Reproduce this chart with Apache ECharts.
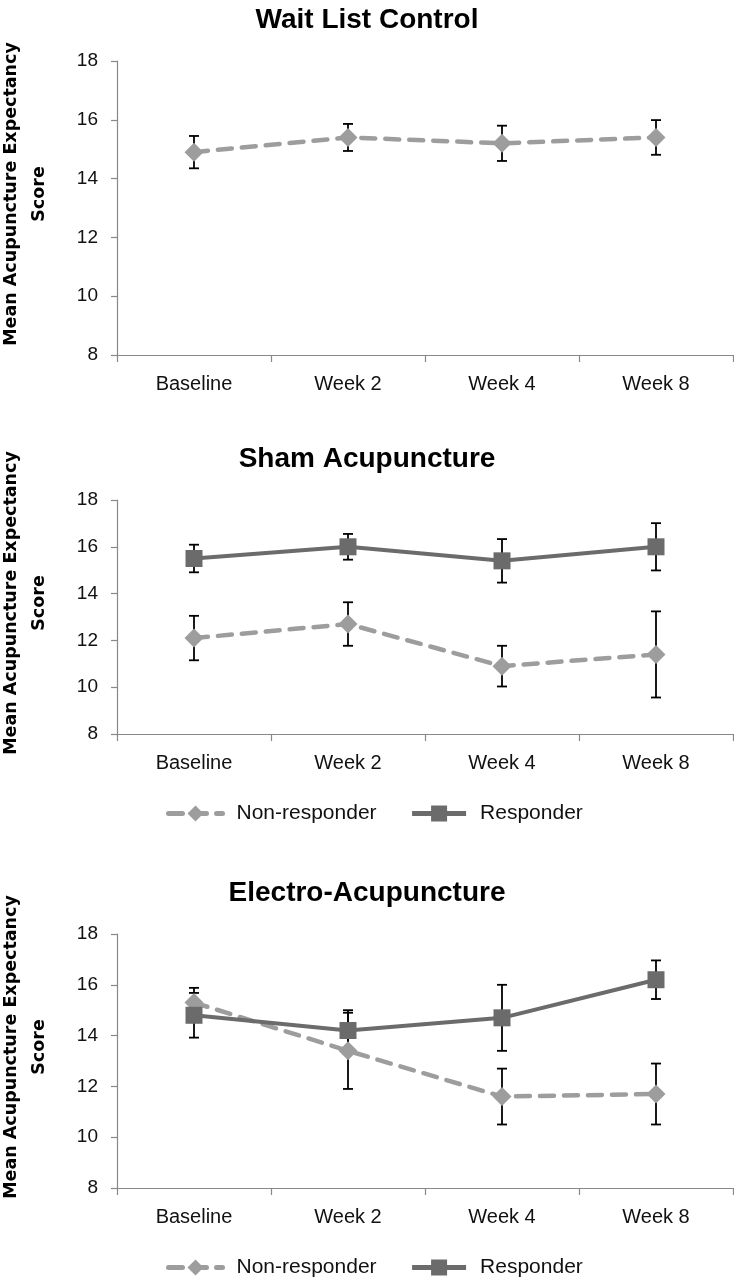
<!DOCTYPE html>
<html>
<head>
<meta charset="utf-8">
<script src="https://cdn.jsdelivr.net/npm/echarts@6/dist/echarts.min.js"></script>
<style>html,body{margin:0;padding:0;background:#fff;}#c{width:734px;height:1280px;}</style>
</head>
<body>
<div id="c"></div>
<script>
const categories = ['Baseline', 'Week 2', 'Week 4', 'Week 8'];
const yTicks = [8, 10, 12, 14, 16, 18];
const panelTitles = ['Wait List Control', 'Sham Acupuncture', 'Electro-Acupuncture'];
const seriesNames = ['Non-responder', 'Responder'];

// Wait List Control
const waitMean = [14.9, 15.4, 15.2, 15.4];
const waitErr = [0.55, 0.46, 0.6, 0.59];
// Sham Acupuncture
const shamNonMean = [12.1, 12.7, 10.9, 11.4];
const shamNonErr = [0.95, 0.93, 0.87, 1.84];
const shamRespMean = [15.5, 16.0, 15.4, 16.0];
const shamRespErr = [0.59, 0.55, 0.93, 1.01];
// Electro-Acupuncture
const electroNonMean = [15.3, 13.4, 11.6, 11.7];
const electroNonErr = [0.58, 1.5, 1.1, 1.2];
const electroRespMean = [14.8, 14.2, 14.7, 16.2];
const electroRespErr = [0.88, 0.8, 1.3, 0.76];

const NON_COLOR = '#9d9d9d';
const RESP_COLOR = '#6b6b6b';
const AXIS_COLOR = '#888888';
const TICK_FONT = 'Liberation Sans, Arial, sans-serif';

const grids = [
  {left: 117, top: 61, width: 616, height: 294, outerBoundsMode: 'none', containLabel: false},
  {left: 117, top: 500, width: 616, height: 234, outerBoundsMode: 'none', containLabel: false},
  {left: 117, top: 934, width: 616, height: 254, outerBoundsMode: 'none', containLabel: false}
];
const titleTops = [-2, 437, 871];

function errData(mean, err) {
  return mean.map((m, i) => [i, m - err[i], m + err[i]]);
}

function errSeries(mean, err, gi) {
  return {
    type: 'custom',
    xAxisIndex: gi, yAxisIndex: gi,
    z: 1,
    silent: true,
    data: errData(mean, err),
    renderItem: function (params, api) {
      const lo = api.coord([api.value(0), api.value(1)]);
      const hi = api.coord([api.value(0), api.value(2)]);
      const w = 5;
      const st = {stroke: '#000', lineWidth: 1.8};
      return {
        type: 'group',
        children: [
          {type: 'line', shape: {x1: lo[0], y1: lo[1], x2: hi[0], y2: hi[1]}, style: st},
          {type: 'line', shape: {x1: lo[0] - w, y1: lo[1], x2: lo[0] + w, y2: lo[1]}, style: st},
          {type: 'line', shape: {x1: hi[0] - w, y1: hi[1], x2: hi[0] + w, y2: hi[1]}, style: st}
        ]
      };
    }
  };
}

function nonSeries(mean, gi) {
  return {
    name: seriesNames[0], type: 'line', xAxisIndex: gi, yAxisIndex: gi, z: 3,
    data: mean, symbol: 'diamond', symbolSize: 19, color: NON_COLOR,
    itemStyle: {color: NON_COLOR},
    lineStyle: {color: NON_COLOR, width: 4.5, type: [14, 10], cap: 'round'},
    emphasis: {disabled: true}
  };
}
function respSeries(mean, gi) {
  return {
    name: seriesNames[1], type: 'line', xAxisIndex: gi, yAxisIndex: gi, z: 4,
    data: mean, symbol: 'rect', symbolSize: 17, color: RESP_COLOR,
    itemStyle: {color: RESP_COLOR},
    lineStyle: {color: RESP_COLOR, width: 4},
    emphasis: {disabled: true}
  };
}

const xAxes = grids.map((g, i) => ({
  type: 'category', gridIndex: i, data: categories, boundaryGap: true,
  axisLine: {lineStyle: {color: AXIS_COLOR, width: 1.2}},
  axisTick: {show: true, length: 7, alignWithLabel: false, lineStyle: {color: AXIS_COLOR, width: 1.2}},
  axisLabel: {color: '#111', fontSize: 20, fontFamily: TICK_FONT, margin: 19}
}));
const yAxes = grids.map((g, i) => ({
  type: 'value', gridIndex: i, min: yTicks[0], max: yTicks[yTicks.length - 1], interval: 2,
  name: 'Mean Acupuncture Expectancy\nScore',
  nameLocation: 'middle', nameRotate: 90, nameGap: 64,
  nameTextStyle: {color: '#000', fontFamily: 'DejaVu Sans, Verdana, sans-serif', fontWeight: 'bold', fontSize: 17.5, lineHeight: 28, padding: [0, 0, 0, 28]},
  axisLine: {show: true, lineStyle: {color: AXIS_COLOR, width: 1.2}},
  axisTick: {show: true, length: 6, lineStyle: {color: AXIS_COLOR, width: 1.2}},
  splitLine: {show: false},
  axisLabel: {color: '#111', fontSize: 19, fontFamily: TICK_FONT, margin: 19}
}));

const titles = panelTitles.map((t, i) => ({
  text: t, left: 'center', top: titleTops[i],
  textStyle: {fontFamily: 'Liberation Sans, Arial, sans-serif', fontWeight: 'bold', fontSize: 28, color: '#000', lineHeight: 34}
}));

const legendBase = {
  left: 166, orient: 'horizontal', itemWidth: 54, itemHeight: 20, itemGap: 33,
  padding: 0, selectedMode: false,
  data: [
    {name: seriesNames[0], lineStyle: {width: 5}},
    {name: seriesNames[1], lineStyle: {width: 5}}
  ],
  textStyle: {fontSize: 21, fontFamily: TICK_FONT, color: '#111', padding: [0, 0, 0, 9]}
};

const option = {
  animation: false,
  backgroundColor: '#fff',
  title: titles,
  grid: grids,
  xAxis: xAxes,
  yAxis: yAxes,
  legend: [
    Object.assign({}, legendBase, {top: 803}),
    Object.assign({}, legendBase, {top: 1257})
  ],
  series: [
    errSeries(waitMean, waitErr, 0),
    nonSeries(waitMean, 0),
    errSeries(shamNonMean, shamNonErr, 1),
    errSeries(shamRespMean, shamRespErr, 1),
    nonSeries(shamNonMean, 1),
    respSeries(shamRespMean, 1),
    errSeries(electroNonMean, electroNonErr, 2),
    errSeries(electroRespMean, electroRespErr, 2),
    nonSeries(electroNonMean, 2),
    respSeries(electroRespMean, 2)
  ]
};
const chart = echarts.init(document.getElementById('c'), null, {renderer: 'canvas'});
chart.setOption(option);
</script>
</body>
</html>
